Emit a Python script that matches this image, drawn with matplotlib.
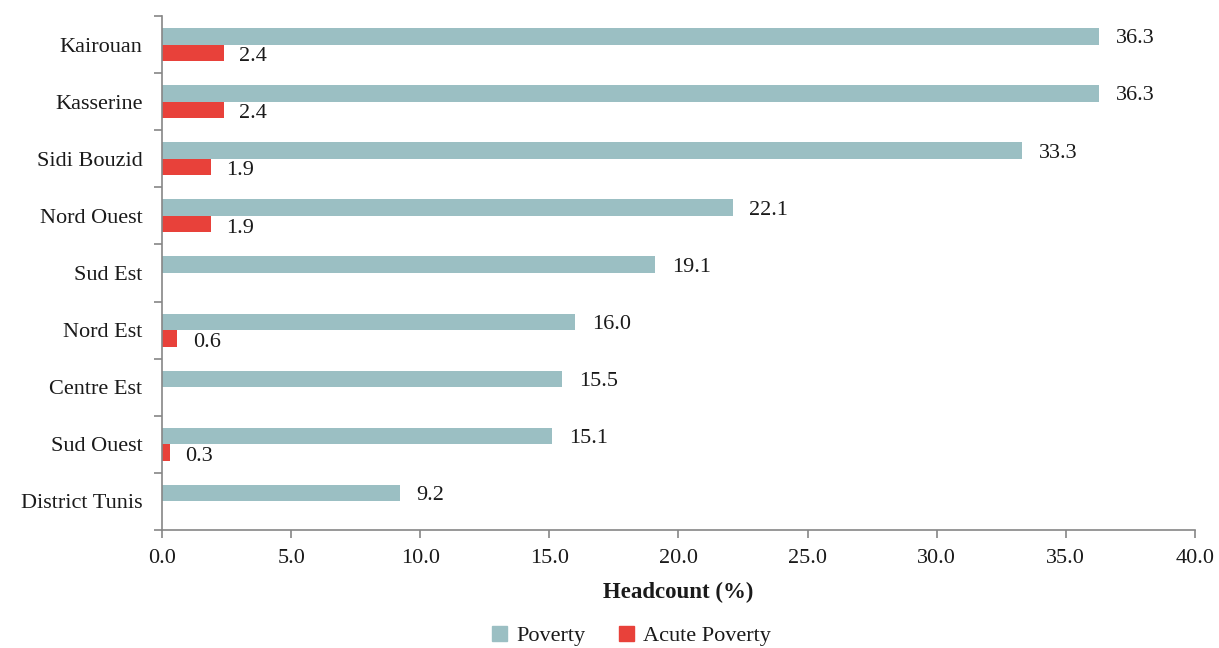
"""Poverty and acute poverty headcount by region, horizontal grouped bars."""

import matplotlib.pyplot as plt
import numpy as np
from matplotlib.patches import Patch

REGIONS = [
    "Kairouan", "Kasserine", "Sidi Bouzid", "Nord Ouest", "Sud Est",
    "Nord Est", "Centre Est", "Sud Ouest", "District Tunis",
]
POVERTY = [36.3, 36.3, 33.3, 22.1, 19.1, 16.0, 15.5, 15.1, 9.2]
ACUTE_POVERTY = [2.4, 2.4, 1.9, 1.9, None, 0.6, None, 0.3, None]
X_TICKS = [0, 5, 10, 15, 20, 25, 30, 35, 40]

TEAL = "#9BBFC3"
RED = "#E8413A"
AXIS_GREY = "#868686"
TEXT = "#1A1A1A"

plt.rcParams["font.family"] = ["Liberation Serif", "DejaVu Serif"]
plt.rcParams["font.size"] = 16
plt.rcParams["text.color"] = TEXT


def main() -> None:
    fig = plt.figure(figsize=(12.19, 6.48), dpi=100)
    ax = fig.add_axes([0.1329, 0.1821, 0.9803 - 0.1329, 0.9753 - 0.1821])

    pos = np.arange(len(REGIONS))
    h = 0.29

    pov_bars = ax.barh(pos - h / 2, POVERTY, height=h, color=TEAL)
    for bar, v in zip(pov_bars, POVERTY):
        ax.annotate(f"{v:.1f}", (bar.get_width(), bar.get_y() + h / 2),
                    xytext=(12, 0), textcoords="offset points",
                    va="center_baseline", ha="left", fontsize=16, color=TEXT)

    for p, v in zip(pos, ACUTE_POVERTY):
        if v is None:
            continue
        ax.barh(p + h / 2, v, height=h, color=RED)
        ax.annotate(f"{v:.1f}", (v, p + h / 2),
                    xytext=(11, -1), textcoords="offset points",
                    va="center_baseline", ha="left", fontsize=16, color=TEXT)

    ax.set_xlim(0, 40)
    ax.set_ylim(len(REGIONS) - 0.5, -0.5)

    ax.set_xticks(X_TICKS)
    ax.set_xticklabels([f"{t:.1f}" for t in X_TICKS], fontsize=16, color=TEXT)
    ax.tick_params(axis="x", direction="out", length=6, width=1.2,
                   color=AXIS_GREY, pad=8)

    # category boundaries get the tick marks, centres get the labels
    ax.set_yticks(np.arange(len(REGIONS) + 1) - 0.5)
    ax.set_yticklabels([])
    ax.set_yticks(pos, minor=True)
    ax.set_yticklabels(REGIONS, minor=True, fontsize=16, color=TEXT)
    ax.tick_params(axis="y", which="major", direction="out", length=6,
                   width=1.2, color=AXIS_GREY)
    ax.tick_params(axis="y", which="minor", length=0, pad=14)

    for side in ("top", "right"):
        ax.spines[side].set_visible(False)
    for side in ("left", "bottom"):
        ax.spines[side].set_color(AXIS_GREY)
        ax.spines[side].set_linewidth(1.2)

    ax.set_xlabel("Headcount (%)", fontsize=16.5, fontweight="bold",
                  color=TEXT, labelpad=10)

    handles = [Patch(color=TEAL, label="Poverty"),
               Patch(color=RED, label="Acute Poverty")]
    fig.legend(handles=handles, loc="center", bbox_to_anchor=(0.518, 0.0185),
               ncol=2, frameon=False, fontsize=16, handlelength=0.7,
               handleheight=0.7, handletextpad=0.4, columnspacing=1.5)

    fig.savefig("out.png", dpi=100)
    plt.close(fig)


if __name__ == "__main__":
    main()
